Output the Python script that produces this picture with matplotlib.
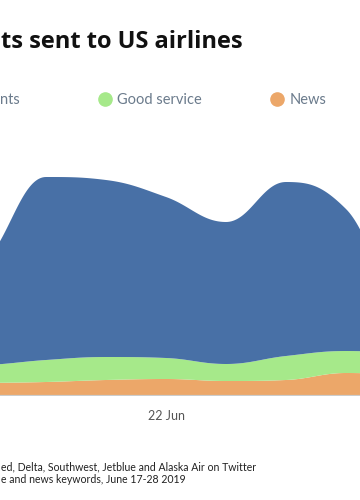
import matplotlib
matplotlib.use("Agg")
import matplotlib.pyplot as plt
import numpy as np
from matplotlib.lines import Line2D

# daily tweet counts, June 17-28 2019
days = [17, 18, 19, 20, 21, 22, 23, 24, 25, 26, 27, 28]
news = [12, 12, 13, 14, 16, 17, 15, 16, 23, 21, 18, 16]
good_service = [16, 18, 18, 22, 23, 21, 17, 24, 22, 21, 20, 19]
complaints = [52, 65, 104, 183, 177, 161, 142, 174, 142, 53, 72, 85]

colors = {"Complaints": "#4870a6", "Good service": "#a6e98a", "News": "#eca769"}

# visible (cropped) texts of the original chart
title_text = "ts sent to US airlines"
legend_cut = "nts"
note_lines = ["ed, Delta, Southwest, Jetblue and Alaska Air on Twitter",
              "e and news keywords, June 17-28 2019"]


def spline(xs, ys, n=40):
    """Highcharts-like areaspline smoothing (cubic bezier, smoothing 1.5)"""
    xs = np.asarray(xs, float)
    ys = np.asarray(ys, float)
    sm = 1.5
    m = len(xs)
    lc = np.zeros((m, 2))
    rc = np.zeros((m, 2))
    for i in range(m):
        x, y = xs[i], ys[i]
        if i == 0 or i == m - 1:
            lc[i] = (x, y)
            rc[i] = (x, y)
            continue
        lx, ly = xs[i - 1], ys[i - 1]
        nx, ny = xs[i + 1], ys[i + 1]
        lcx = (sm * x + lx) / (sm + 1)
        lcy = (sm * y + ly) / (sm + 1)
        rcx = (sm * x + nx) / (sm + 1)
        rcy = (sm * y + ny) / (sm + 1)
        corr = (rcy - lcy) * (rcx - x) / (rcx - lcx) + y - rcy
        lcy += corr
        rcy += corr
        if lcy > ly and lcy > y:
            lcy = max(ly, y)
            rcy = 2 * y - lcy
        elif lcy < ly and lcy < y:
            lcy = min(ly, y)
            rcy = 2 * y - lcy
        if rcy > ny and rcy > y:
            rcy = max(ny, y)
            lcy = 2 * y - rcy
        elif rcy < ny and rcy < y:
            rcy = min(ny, y)
            lcy = 2 * y - rcy
        lc[i] = (lcx, lcy)
        rc[i] = (rcx, rcy)
    t = np.linspace(0, 1, n)[:, None]
    out = []
    for i in range(m - 1):
        p0 = np.array([xs[i], ys[i]])
        p1 = rc[i]
        p2 = lc[i + 1]
        p3 = np.array([xs[i + 1], ys[i + 1]])
        seg = ((1 - t) ** 3) * p0 + 3 * t * (1 - t) ** 2 * p1 + 3 * t ** 2 * (1 - t) * p2 + t ** 3 * p3
        out.append(seg if i == 0 else seg[1:])
    out = np.vstack(out)
    return out[:, 0], out[:, 1]


fig = plt.figure(figsize=(3.6, 5), dpi=100)
fig.patch.set_facecolor("white")

# axes reach past both figure edges (the chart is a crop of a wider one)
ax = fig.add_axes([0, 104 / 500, 1, 246 / 500])
ax.set_xlim(22 - 166 / 60, 22 + 194 / 60)
ax.set_ylim(0, 246)

base = np.zeros(len(days))
stack = {"News": news, "Good service": good_service, "Complaints": complaints}
for name in ["News", "Good service", "Complaints"]:
    top = base + np.array(stack[name])
    xb, yb = spline(days, base)
    xt, yt = spline(days, top)
    ax.fill_between(xt, yb, yt, color=colors[name], linewidth=0, zorder=2)
    base = top

ax.axhline(0, color="#cccccc", linewidth=1.6, zorder=3)
for s in ax.spines.values():
    s.set_visible(False)
ax.set_yticks([])
ax.set_xticks([22])
ax.set_xticklabels(["22 Jun"], fontsize=9, color="#555555", family="Lato")
ax.tick_params(axis="x", length=0, pad=10)
ax.patch.set_alpha(0)

# title
fig.text(1 / 360, 1 - 48 / 500, title_text, ha="left", va="baseline",
         fontsize=17, fontweight="bold", family="Open Sans", color="#111111")

# legend
leg_y = 1 - 100 / 500
legend_text = "#6b7b8c"
fig.text(20 / 360, leg_y, legend_cut, ha="right", va="center", fontsize=10.5, family="Lato", color=legend_text)
for name, cx in [("Good service", 104.5), ("News", 277)]:
    fig.add_artist(Line2D([cx / 360], [1 - 98.5 / 500], marker="o", markersize=9.5, color=colors[name],
                          linestyle="none", transform=fig.transFigure))
    fig.text((cx + 12.5) / 360, leg_y, name, ha="left", va="center", fontsize=10.5, family="Lato",
             color=legend_text)

# source notes
fig.text(1 / 360, 1 - 470 / 500, note_lines[0], ha="left", va="baseline",
         fontsize=7.6, family="Lato", color="#222222")
fig.text(1 / 360, 1 - 483 / 500, note_lines[1], ha="left", va="baseline",
         fontsize=7.6, family="Lato", color="#222222")

fig.savefig("out.png", dpi=100)
